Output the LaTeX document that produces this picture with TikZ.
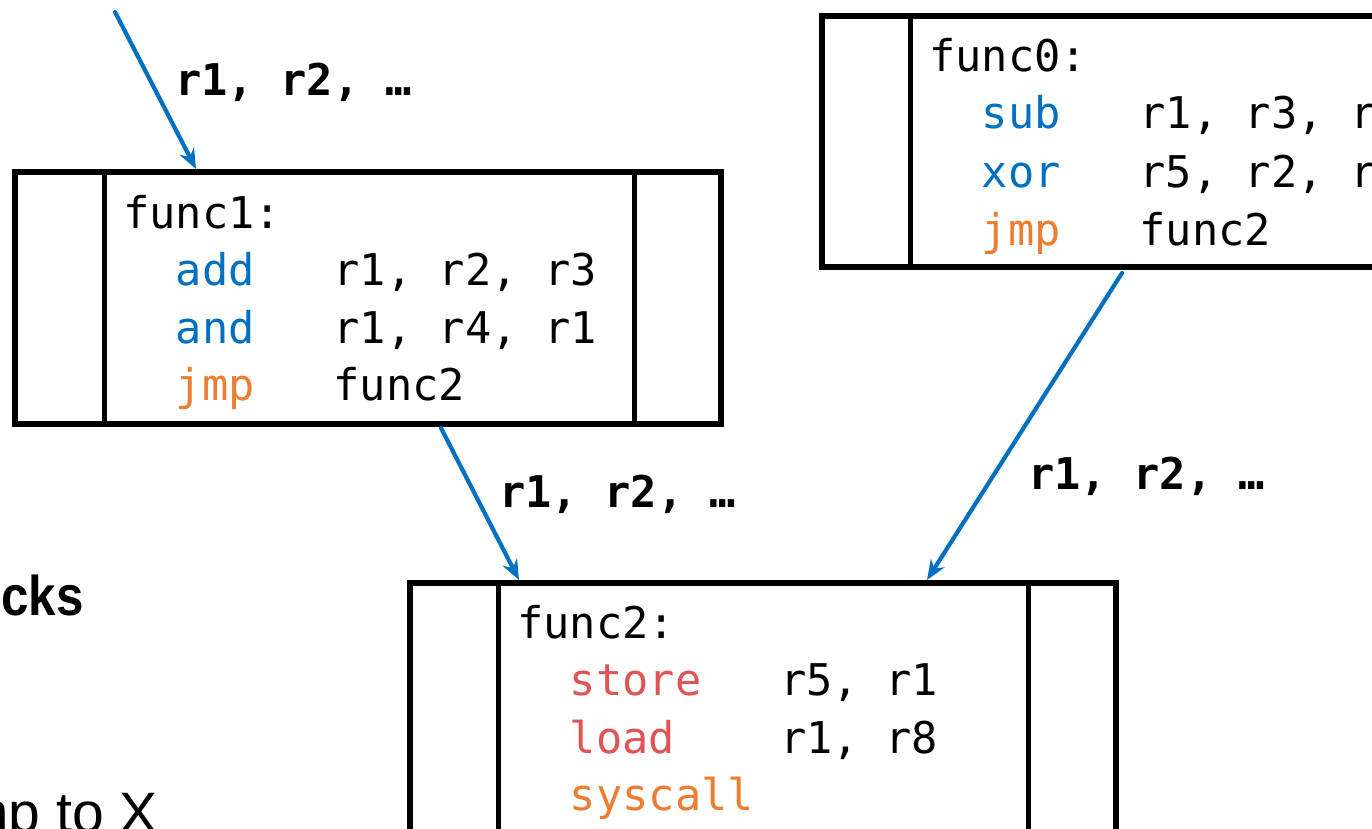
\documentclass[tikz,border=0pt]{standalone}
\usepackage{fontspec}
\setmonofont{DejaVu Sans Mono}
\newfontfamily\sidefont{Liberation Sans}
\newfontfamily\sidebold[FakeStretch=0.88]{Liberation Sans Bold}
\usetikzlibrary{arrows.meta}
\definecolor{opblue}{HTML}{0070C0}
\definecolor{oporange}{HTML}{ED7D31}
\definecolor{opred}{HTML}{E05454}
\definecolor{arrowblue}{HTML}{0070C0}
\tikzset{
  blockbox/.style={draw=black, line width=5.5pt, fill=white, minimum width=706pt, inner sep=0pt, outer sep=0pt},
  divider/.style={line width=5pt},
  codeline/.style={anchor=base west, inner sep=0pt, font=\fontsize{43.7pt}{52pt}\selectfont\ttfamily},
  flowlabel/.style={anchor=base west, inner sep=0pt, font=\fontsize{43.7pt}{52pt}\selectfont\ttfamily\bfseries},
  flow/.style={draw=arrowblue, line width=4.2pt, line cap=round, -{Stealth[length=20pt, width=16pt]}},
  sidetext/.style={anchor=base east, inner sep=0pt}
}
\newcommand{\op}[2]{\textcolor{#1}{#2}}
\begin{document}
\begin{tikzpicture}[x=1pt, y=-1pt]
\useasboundingbox (0,0) rectangle (1372,829);
\begin{scope}
\clip (0,0) rectangle (1372,829);
\fill[white] (0,0) rectangle (1372,829);

% block func1
\node[blockbox, minimum height=252pt] (f1) at (368,298) {};
\draw[divider] (104,172) -- (104,424);
\draw[divider] (634,172) -- (634,424);
\node[codeline] (f1l0) at (123,228) {func1:};
\node[codeline] (f1l1) at (123,285) {\ \ \op{opblue}{add}\ \ \ r1, r2, r3};
\node[codeline] (f1l2) at (123,343) {\ \ \op{opblue}{and}\ \ \ r1, r4, r1};
\node[codeline] (f1l3) at (123,400) {\ \ \op{oporange}{jmp}\ \ \ func2};

% block func0
\node[blockbox, minimum height=251pt] (f0) at (1175,141.5) {};
\draw[divider] (910,16) -- (910,267);
\node[codeline] (f0l0) at (929,72) {func0:};
\node[codeline] (f0l1) at (929,129) {\ \ \op{opblue}{sub}\ \ \ r1, r3, r4};
\node[codeline] (f0l2) at (929,187) {\ \ \op{opblue}{xor}\ \ \ r5, r2, r1};
\node[codeline] (f0l3) at (929,245) {\ \ \op{oporange}{jmp}\ \ \ func2};

% block func2
\node[blockbox, minimum height=280pt] (f2) at (763,723) {};
\draw[divider] (498,583) -- (498,870);
\draw[divider] (1028,583) -- (1028,870);
\node[codeline] (f2l0) at (517,638) {func2:};
\node[codeline] (f2l1) at (517,695) {\ \ \op{opred}{store}\ \ \ r5, r1};
\node[codeline] (f2l2) at (517,753) {\ \ \op{opred}{load}\ \ \ \ r1, r8};
\node[codeline] (f2l3) at (517,810) {\ \ \op{oporange}{syscall}};

% connectors
\coordinate (src) at (115,12);
\coordinate (f1in) at (196,169);
\coordinate (f1out) at (441,428);
\coordinate (f2inA) at (519,580);
\coordinate (f0out) at (1122,273);
\coordinate (f2inB) at (927,580);
\draw[flow] (src) -- (f1in);
\draw[flow] (f1out) -- (f2inA);
\draw[flow] (f0out) -- (f2inB);

\node[flowlabel] (lab1) at (175,96) {r1, r2, …};
\node[flowlabel] (lab2) at (499,507) {r1, r2, …};
\node[flowlabel] (lab3) at (1028,489) {r1, r2, …};

% side texts
\node[sidetext, font=\fontsize{56pt}{60pt}\selectfont\sidebold] (side1) at (84,615) {ocks};
\node[sidetext, font=\fontsize{57pt}{60pt}\selectfont\sidefont] (side2) at (158,832) {mp to X};
\end{scope}
\end{tikzpicture}
\end{document}
